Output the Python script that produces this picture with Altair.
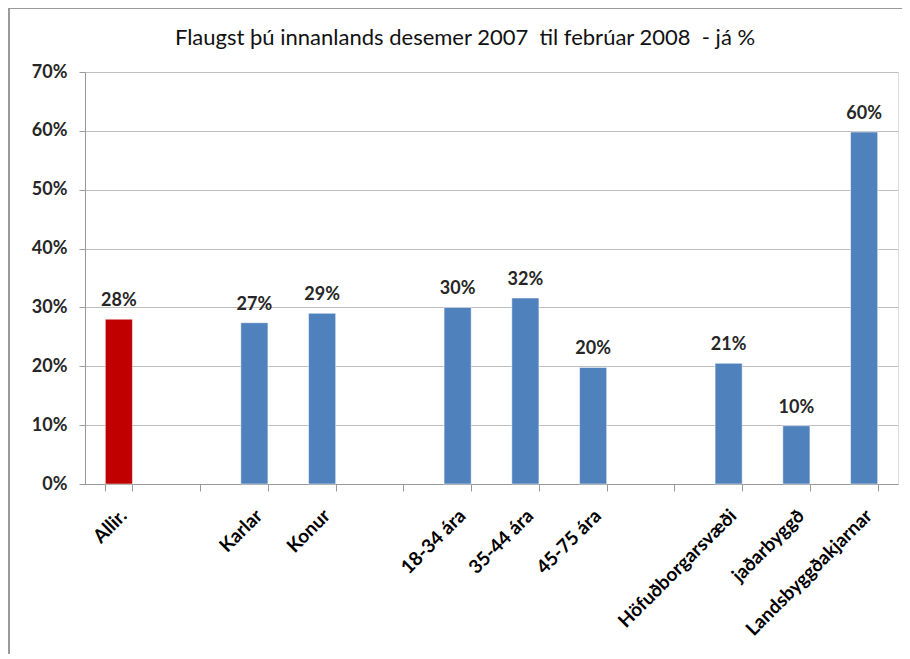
import altair as alt
import pandas as pd

categories = ["Allir.", " ", "Karlar", "Konur", "  ", "18-34 ára", "35-44 ára",
              "45-75 ára", "   ", "Höfuðborgarsvæði", "jaðarbyggð", "Landsbyggðakjarnar"]
values = [0.28, None, 0.274, 0.29, None, 0.30, 0.316, 0.198, None, 0.205, 0.099, 0.598]
groups = ["all", "gap", "sub", "sub", "gap", "sub", "sub", "sub", "gap", "sub", "sub", "sub"]
y_ticks = [0, 0.1, 0.2, 0.3, 0.4, 0.5, 0.6, 0.7]
title_text = "Flaugst þú innanlands desemer 2007 \u00a0til febrúar 2008 \u00a0- já %"

df = pd.DataFrame({"cat": categories, "value": values, "grp": groups})

FONT = "Lato"
GRID = "#BEBEBE"
AXIS = "#999999"

x_enc = alt.X("cat:N", sort=categories,
              scale=alt.Scale(domain=categories, paddingInner=0.6, paddingOuter=0.3),
              axis=alt.Axis(title=None, labelAngle=-45, labelAlign="right", labelBaseline="top",
                            labelFont=FONT, labelFontSize=19, labelFontWeight="bold",
                            labelColor="#000000", labelPadding=15, labelOffset=-2,
                            labelOverlap=False,
                            tickBand="extent", tickSize=7, tickColor=AXIS, tickWidth=1,
                            domainColor=AXIS, grid=False, labelLimit=300))
y_enc = alt.Y("value:Q",
              scale=alt.Scale(domain=[0, 0.7], nice=False),
              axis=alt.Axis(title=None, values=y_ticks, format=".0%",
                            labelFont=FONT, labelFontSize=18, labelFontWeight="bold",
                            labelColor="#262626", labelPadding=12, tickSize=6,
                            tickColor=AXIS, domainColor=AXIS, gridColor=GRID))

base = alt.Chart(df).transform_filter("datum.value != null")

bars = base.mark_bar(stroke="white", strokeWidth=0.5).encode(
    x=x_enc, y=y_enc,
    color=alt.Color("grp:N", scale=alt.Scale(domain=["all", "sub"], range=["#C00000", "#4F81BD"]),
                    legend=None),
)

labels = base.mark_text(font=FONT, fontSize=18, fontWeight="bold", color="#262626",
                        baseline="alphabetic", dy=-13).encode(
    x=alt.X("cat:N", sort=categories), y="value:Q",
    text=alt.Text("value:Q", format=".0%"),
)

title_df = pd.DataFrame({"t": [title_text]})
title = alt.Chart(title_df).mark_text(font=FONT, fontSize=22, color="#111111",
                                      baseline="middle", align="center").encode(
    x=alt.value(380), y=alt.value(-34), text="t:N")

frame_left = alt.Chart(df).mark_rule(color="#9A9A9A", strokeWidth=2).encode(
    x=alt.value(-76), y=alt.value(-64), y2=alt.value(600))
frame_top = alt.Chart(df).mark_rule(color="#9A9A9A", strokeWidth=2).encode(
    x=alt.value(-76), x2=alt.value(830), y=alt.value(-64))

chart = alt.layer(frame_left, frame_top, bars, labels, title).properties(
    width=813, height=412,
    autosize=alt.AutoSizeParams(type="none"),
    padding={"left": 77, "top": 64, "right": 4, "bottom": 170},
).configure_view(stroke=None).configure(background="white")

chart.save("out.html", embed_options={"renderer": "svg", "actions": False})
